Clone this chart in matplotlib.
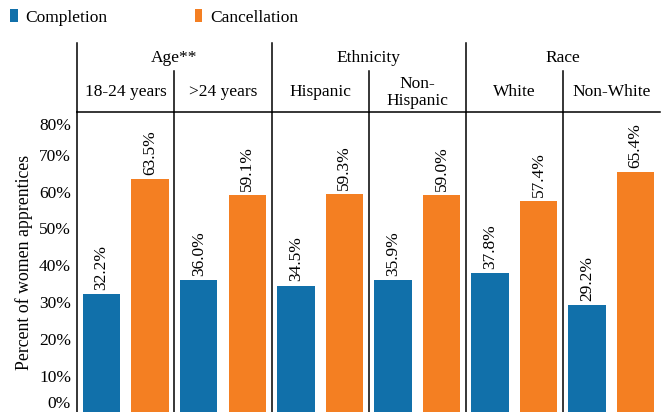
import matplotlib
matplotlib.use("Agg")
import matplotlib.pyplot as plt
from matplotlib.transforms import blended_transform_factory, ScaledTranslation
import numpy as np

plt.rcParams['font.family'] = ['Liberation Serif', 'DejaVu Serif']
plt.rcParams['font.size'] = 12.5

groups = ["Age**", "Ethnicity", "Race"]
subgroups = ["18-24 years", ">24 years", "Hispanic", "Non-\nHispanic", "White", "Non-White"]
completion = [32.2, 36.0, 34.5, 35.9, 37.8, 29.2]
cancellation = [63.5, 59.1, 59.3, 59.0, 57.4, 65.4]
series_names = ["Completion", "Cancellation"]
yticks = [0, 10, 20, 30, 40, 50, 60, 70, 80]
ytick_labels = [f"{v}%" for v in yticks]

blue = "#1170AA"
orange = "#F47F22"

W, H = 662, 412
fig = plt.figure(figsize=(W / 100, H / 100), dpi=100)

left_px, right_px = 77.3, 660.0
top_px, base_px = 112.0, 412.5
ax = fig.add_axes([left_px / W, (H - base_px) / H, (right_px - left_px) / W, (base_px - top_px) / H])

n = len(subgroups)
x = np.arange(n)
bw = 0.385
b1 = ax.bar(x + 0.25, completion, bw, color=blue, label=series_names[0])
b2 = ax.bar(x + 0.75, cancellation, bw, color=orange, label=series_names[1])

px_per_pct = 3.68
ax.set_xlim(0, n)
ax.set_ylim(0, (base_px - top_px) / px_per_pct)
ax.set_xticks([])
ax.set_yticks(yticks)
ax.set_yticklabels(ytick_labels)
ax.tick_params(axis='y', length=0, pad=4.5)

for s in ['left', 'top']:
    ax.spines[s].set_color('black')
    ax.spines[s].set_linewidth(1.1)
ax.spines['right'].set_visible(False)
ax.spines['bottom'].set_color('#dddddd')

for bars, vals in [(b1, completion), (b2, cancellation)]:
    for rect, v in zip(bars, vals):
        ax.annotate(f"{v:.1f}%", (rect.get_x() + rect.get_width() / 2, v),
                    xytext=(0, 3), textcoords='offset points',
                    rotation=90, ha='center', va='bottom')

# separators inside plot
for i in range(1, n):
    ax.axvline(i, color='black', lw=1.1)

# header lines and labels
tr = blended_transform_factory(ax.transData, fig.transFigure)
def fy(py):
    return 1 - py / H

for i in range(0, n, 2):
    ax.plot([i, i], [fy(43), fy(top_px)], color='black', lw=1.1, transform=tr, clip_on=False)
for i in range(1, n, 2):
    ax.plot([i, i], [fy(70.7), fy(top_px)], color='black', lw=1.1, transform=tr, clip_on=False)

for gi, g in enumerate(groups):
    ax.text(gi * 2 + 1, fy(58), g, transform=tr, ha='center', va='center')
for si, s in enumerate(subgroups):
    ax.text(si + 0.5, fy(92.5), s, transform=tr, ha='center', va='center', linespacing=1.08)

ax.set_ylabel("Percent of women apprentices", fontsize=12.8, labelpad=4)

fig.canvas.draw()
labels = ax.get_yticklabels()
labels[0].set_transform(labels[0].get_transform() + ScaledTranslation(0, 10 / 100, fig.dpi_scale_trans))
labels[-1].set_transform(labels[-1].get_transform() + ScaledTranslation(0, -6 / 100, fig.dpi_scale_trans))

fig.legend(handles=[b1, b2], labels=series_names, loc='upper left',
           bbox_to_anchor=(10 / W, 1 - 9 / H), ncol=2, frameon=False,
           handlelength=0.45, handleheight=0.8, handletextpad=0.45,
           columnspacing=5.0, borderpad=0, borderaxespad=0)

fig.savefig("out.png", dpi=100)
